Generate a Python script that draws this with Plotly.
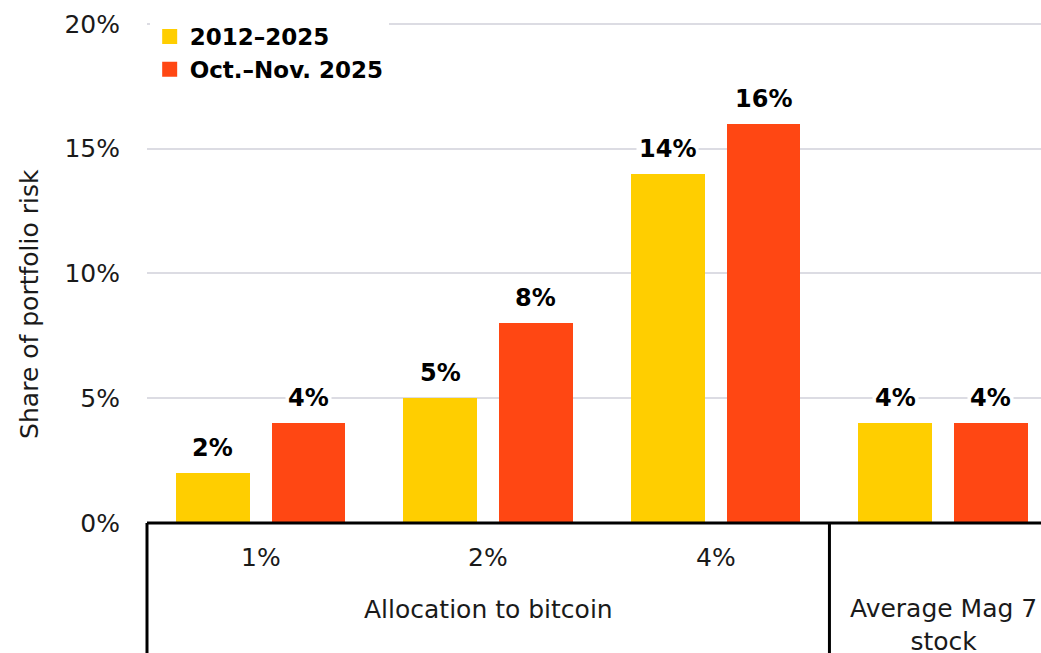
import plotly.graph_objects as go

# Data
groups = ["1%", "2%", "4%", "Average Mag 7<br>stock"]
parent_label = "Allocation to bitcoin"
series_names = ["2012–2025", "Oct.–Nov. 2025"]
long_run = [2, 5, 14, 4]
recent = [4, 8, 16, 4]
y_ticks = [0, 5, 10, 15, 20]

YELLOW = "#FFCE00"
ORANGE = "#FF4713"
FONT = "DejaVu Sans"
TXT = "#1a1a1a"

idx = list(range(len(groups)))
BAR_W = 0.325
OFF = 0.21
X_RANGE = [-0.5, 3.43]

fig = go.Figure()
for name, vals, color, shift in [
    (series_names[0], long_run, YELLOW, -OFF),
    (series_names[1], recent, ORANGE, OFF),
]:
    fig.add_trace(go.Bar(
        x=[i + shift for i in idx], y=vals, width=BAR_W,
        marker=dict(color=color, line=dict(width=0)),
        name=name, hoverinfo="skip", showlegend=False,
    ))
    # legend entry drawn as a square swatch
    fig.add_trace(go.Scatter(
        x=[None], y=[None], mode="markers", name=name,
        marker=dict(symbol="square", size=15, color=color),
    ))
    for i, v in zip(idx, vals):
        fig.add_annotation(
            x=i + shift, y=v, xref="x", yref="y", text=f"<b>{v}%</b>",
            showarrow=False, yanchor="bottom", yshift=8,
            font=dict(family=FONT, size=24, color="#000"),
            bgcolor="white", borderpad=2,
        )

# Category labels beneath the axis (pixel rows converted to paper units)
PLOT_TOP, PLOT_BOT = 14, 523
PH = PLOT_BOT - PLOT_TOP


def py(pix):
    return (PLOT_BOT - pix) / PH


for i in range(3):
    fig.add_annotation(x=i, y=py(557), xref="x", yref="paper", text=groups[i],
                       showarrow=False, yanchor="middle",
                       font=dict(family=FONT, size=25, color=TXT))
fig.add_annotation(x=1, y=py(609), xref="x", yref="paper", text=parent_label,
                   showarrow=False, yanchor="middle",
                   font=dict(family=FONT, size=25, color=TXT))
fig.add_annotation(x=3, y=py(625), xref="x", yref="paper", text=groups[3],
                   showarrow=False, yanchor="middle",
                   font=dict(family=FONT, size=25, color=TXT))

# Axis title
fig.add_annotation(x=-0.131, y=py(304), xref="paper", yref="paper",
                   text="Share of portfolio risk",
                   showarrow=False, textangle=-90, xanchor="center", yanchor="middle",
                   font=dict(family=FONT, size=25, color=TXT))

# Baseline and group separators (paper-referenced so they are not clipped)
def px(xval):
    return (xval - X_RANGE[0]) / (X_RANGE[1] - X_RANGE[0])


fig.add_shape(type="line", xref="paper", yref="paper", x0=0, x1=1, y0=0, y1=0,
              line=dict(color="black", width=3), layer="above")
for xs in [-0.5, 2.5]:
    fig.add_shape(type="line", xref="paper", yref="paper", x0=px(xs), x1=px(xs),
                  y0=0, y1=py(660), line=dict(color="black", width=3), layer="above")

fig.update_layout(
    width=1041, height=653,
    margin=dict(l=147, r=0, t=PLOT_TOP, b=653 - PLOT_BOT),
    paper_bgcolor="white", plot_bgcolor="white",
    showlegend=True,
    legend=dict(x=0.003, y=py(15), xanchor="left", yanchor="top",
                bgcolor="white", font=dict(family=FONT, size=23, color="#000", weight="bold"),
                itemwidth=30, tracegroupgap=0, borderwidth=0),
    xaxis=dict(range=X_RANGE, showgrid=False, zeroline=False,
               showticklabels=False, ticks="", showline=False, fixedrange=True),
    yaxis=dict(range=[0, 20.4], tickvals=y_ticks, ticktext=[f"{t}%" for t in y_ticks],
               showgrid=True, gridcolor="#dcdce3", gridwidth=2, zeroline=False,
               ticks="outside", ticklen=21, tickcolor="rgba(0,0,0,0)",
               tickfont=dict(family=FONT, size=25, color=TXT), showline=False),
    bargap=0,
)

fig.write_html("out.html")
